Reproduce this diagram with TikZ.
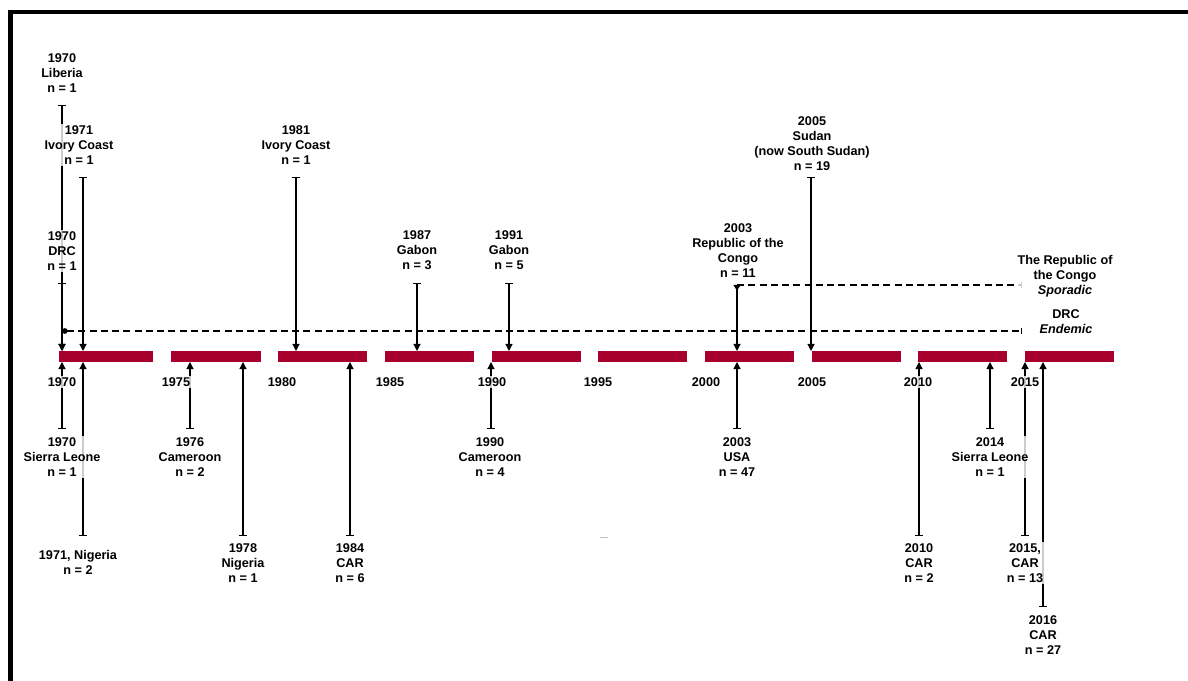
\documentclass[tikz,border=0pt]{standalone}
\usepackage{fontspec}
\setmainfont{Liberation Sans}
\usetikzlibrary{arrows.meta}
\definecolor{barred}{RGB}{168,0,44}

\begin{document}
\begin{tikzpicture}[x=0.025cm,y=-0.025cm,
  lbl/.style={align=center,anchor=north,inner sep=1pt,fill=white,fill opacity=0.8,text opacity=1,
    font=\fontsize{9}{10.7}\selectfont\bfseries},
  dn/.style={line width=0.8pt,{Bar[width=5.5pt]}-{Triangle[width=5pt,length=5pt]}},
  trend/.style={line width=0.8pt,dash pattern=on 5pt off 3pt,-{Bar[width=4.5pt]}}]
\useasboundingbox (0,0) rectangle (1188,681);
\draw[line width=3.2pt] (10.5,690) -- (10.5,12) -- (1195,12);
%
\foreach \s/\e in {59/153,171/261,278/367,385/474,492/581,598/687,705/794,812/901,918/1007,1025/1114}
  \fill[barred] (\s,351) rectangle (\e,362);
\coordinate (bartop) at (0,351);
\coordinate (barbot) at (0,362);
%
\coordinate (liberia70) at (62,105);
\coordinate (ivory71) at (83,177);
\coordinate (drc70) at (62,283);
\coordinate (ivory81) at (296,177);
\coordinate (gabon87) at (417,283);
\coordinate (gabon91) at (509,283);
\coordinate (congo03) at (737,285);
\coordinate (sudan05) at (811,177);
%
\coordinate (sleone70) at (62,429);
\coordinate (nigeria71) at (83,536);
\coordinate (cameroon76) at (190,429);
\coordinate (nigeria78) at (243,536);
\coordinate (car84) at (350,536);
\coordinate (cameroon90) at (491,429);
\coordinate (usa03) at (737,429);
\coordinate (car10) at (919,536);
\coordinate (sleone14) at (990,429);
\coordinate (car15) at (1025,536);
\coordinate (car16) at (1043,607);
%
\coordinate (drcdot) at (62,331);
\coordinate (drcend) at (1022,331);
\coordinate (congoend) at (1022,285);
%
\draw[trend,{Circle[length=4pt]}-{Bar[width=4.5pt]}] (drcdot) -- (drcend);
\draw[trend] (congo03) -- (congoend);
%
\foreach \ev in {liberia70,ivory71,drc70,ivory81,gabon87,gabon91,sudan05}
  \draw[dn] (\ev) -- (\ev |- bartop);
\draw[line width=0.8pt,{Triangle[reversed,width=5pt,length=4pt]}-{Triangle[width=5pt,length=5pt]}] (congo03) -- (congo03 |- bartop);
\foreach \ev in {sleone70,nigeria71,cameroon76,nigeria78,car84,cameroon90,usa03,car10,sleone14,car15,car16}
  \draw[dn] (\ev) -- (\ev |- barbot);
\draw[gray!50] (600,537) -- (608,537);
%
\foreach \yr/\lx in {1970/62,1975/176,1980/282,1985/390,1990/492,1995/598,2000/706,2005/812,2010/918,2015/1025}
  \node[lbl,anchor=center] (y\yr) at (\lx,382) {\yr};
%
\node[lbl] (liberia70-l) at (62,51.5) {1970\\Liberia\\n = 1};
\node[lbl] (ivory71-l) at (79,123.5) {1971\\Ivory Coast\\n = 1};
\node[lbl] (drc70-l) at (62,229.5) {1970\\DRC\\n = 1};
\node[lbl] (ivory81-l) at (296,123.5) {1981\\Ivory Coast\\n = 1};
\node[lbl] (gabon87-l) at (417,228.5) {1987\\Gabon\\n = 3};
\node[lbl] (gabon91-l) at (509,228.5) {1991\\Gabon\\n = 5};
\node[lbl] (congo03-l) at (738,221.5) {2003\\Republic of the\\Congo\\n = 11};
\node[lbl] (sudan05-l) at (812,115) {2005\\Sudan\\(now South Sudan)\\n = 19};
%
\node[lbl] (sleone70-l) at (62,435.5) {1970\\Sierra Leone\\n = 1};
\node[lbl] (nigeria71-l) at (78,549) {1971, Nigeria\\n = 2};
\node[lbl] (cameroon76-l) at (190,435.5) {1976\\Cameroon\\n = 2};
\node[lbl] (nigeria78-l) at (243,541.5) {1978\\Nigeria\\n = 1};
\node[lbl] (car84-l) at (350,541.5) {1984\\CAR\\n = 6};
\node[lbl] (cameroon90-l) at (490,435.5) {1990\\Cameroon\\n = 4};
\node[lbl] (usa03-l) at (737,435.5) {2003\\USA\\n = 47};
\node[lbl] (car10-l) at (919,541.5) {2010\\CAR\\n = 2};
\node[lbl] (sleone14-l) at (990,435.5) {2014\\Sierra Leone\\n = 1};
\node[lbl] (car15-l) at (1025,541.5) {2015,\\CAR\\n = 13};
\node[lbl] (car16-l) at (1043,613.5) {2016\\CAR\\n = 27};
%
\node[lbl] (sporadic) at (1065,253.5) {The Republic of\\the Congo\\\textit{Sporadic}};
\node[lbl] (endemic) at (1066,307.5) {DRC\\\textit{Endemic}};
\end{tikzpicture}
\end{document}
